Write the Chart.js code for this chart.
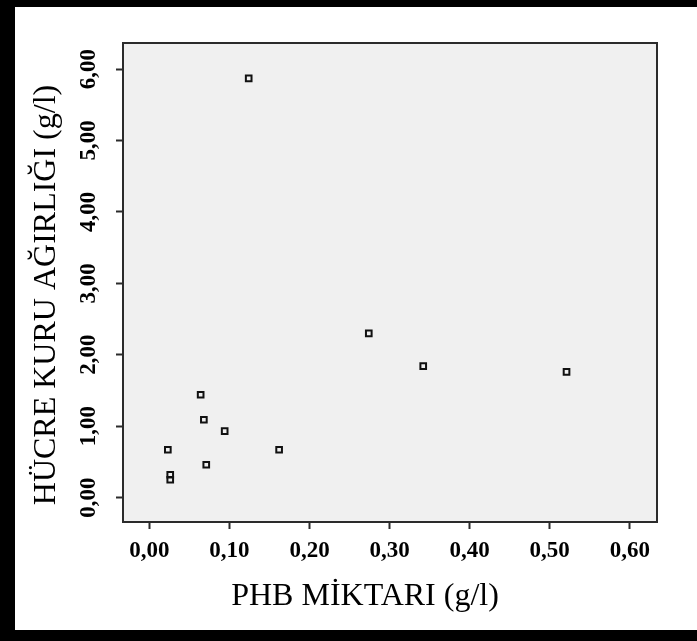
<!DOCTYPE html>
<html>
<head>
<meta charset="utf-8">
<script src="https://cdn.jsdelivr.net/npm/chart.js@4.4.0/dist/chart.umd.min.js"></script>
<style>
  html, body { margin: 0; padding: 0; background: #fff; }
  #frame {
    width: 682px; height: 623px;
    border-left: 15px solid #000;
    border-top: 7px solid #000;
    border-bottom: 11px solid #000;
    background: #fff;
  }
  canvas { display: block; }
</style>
</head>
<body>
<div id="frame"><canvas id="scatter" width="682" height="623"></canvas></div>
<script>
// ─── DATA ─────────────────────────────────────────────────────
const PHB_G_L  = [0.124, 0.064, 0.068, 0.094, 0.023, 0.071, 0.026, 0.026, 0.162, 0.274, 0.342, 0.521];
const DRY_G_L  = [5.87,  1.44,  1.09,  0.93,  0.67,  0.46,  0.32,  0.25,  0.67,  2.30,  1.84,  1.76];

const X_TICKS       = [0, 0.1, 0.2, 0.3, 0.4, 0.5, 0.6];
const X_TICK_LABELS = ['0,00', '0,10', '0,20', '0,30', '0,40', '0,50', '0,60'];
const Y_TICKS       = [0, 1, 2, 3, 4, 5, 6];
const Y_TICK_LABELS = ['0,00', '1,00', '2,00', '3,00', '4,00', '5,00', '6,00'];

const X_TITLE = 'PHB MİKTARI (g/l)';
const Y_TITLE = 'HÜCRE KURU AĞIRLIĞI (g/l)';

const SERIF = '"Liberation Serif", "Times New Roman", serif';

// ─── PLOT BOX + AXIS TITLES ───────────────────────────────────
const plotBox = {
  id: 'plotBox',
  beforeDraw(chart) {
    const { ctx, chartArea: a } = chart;
    ctx.save();
    ctx.fillStyle = '#f0f0f0';
    ctx.fillRect(a.left, a.top, a.right - a.left, a.bottom - a.top);
    ctx.restore();
  },
  afterDraw(chart) {
    const { ctx, chartArea: a } = chart;
    ctx.save();
    ctx.strokeStyle = '#2b2b2b';
    ctx.lineWidth = 2;
    ctx.strokeRect(a.left, a.top, a.right - a.left, a.bottom - a.top);

    ctx.fillStyle = '#000';
    ctx.font = '32px ' + SERIF;
    ctx.textAlign = 'center';
    ctx.textBaseline = 'alphabetic';
    ctx.fillText(X_TITLE, 350, 598);

    ctx.translate(40, 288);
    ctx.rotate(-Math.PI / 2);
    ctx.fillText(Y_TITLE, 0, 0);
    ctx.restore();
  }
};

const tickFont = { family: SERIF, size: 23, weight: 'bold' };

new Chart(document.getElementById('scatter').getContext('2d'), {
  type: 'scatter',
  data: {
    datasets: [{
      data: PHB_G_L.map((x, i) => ({ x, y: DRY_G_L[i] })),
      pointStyle: 'rect',
      pointRadius: 4,
      pointHoverRadius: 4,
      borderWidth: 2,
      borderColor: '#111',
      backgroundColor: 'transparent',
    }],
  },
  options: {
    responsive: false,
    animation: false,
    events: [],
    layout: { padding: { top: 36, right: 40, left: 0, bottom: 0 } },
    plugins: { legend: { display: false }, tooltip: { enabled: false } },
    scales: {
      x: {
        type: 'linear',
        min: -0.033,
        max: 0.634,
        afterBuildTicks: s => { s.ticks = X_TICKS.map(v => ({ value: v })); },
        afterFit: s => { s.height = 108; },
        border: { display: false },
        grid: { drawOnChartArea: false, tickLength: 7, tickWidth: 2, tickColor: '#2b2b2b' },
        ticks: {
          padding: 8,
          color: '#000',
          font: tickFont,
          maxRotation: 0,
          autoSkip: false,
          callback: v => X_TICK_LABELS[X_TICKS.findIndex(t => Math.abs(t - v) < 1e-9)],
        },
      },
      y: {
        type: 'linear',
        min: -0.342,
        max: 6.365,
        afterBuildTicks: s => { s.ticks = Y_TICKS.map(v => ({ value: v })); },
        afterFit: s => { s.width = 108; },
        border: { display: false },
        grid: { drawOnChartArea: false, tickLength: 7, tickWidth: 2, tickColor: '#2b2b2b' },
        ticks: {
          padding: 7,
          color: '#000',
          font: tickFont,
          minRotation: 90,
          maxRotation: 90,
          crossAlign: 'center',
          autoSkip: false,
          callback: v => Y_TICK_LABELS[Y_TICKS.findIndex(t => Math.abs(t - v) < 1e-9)],
        },
      },
    },
  },
  plugins: [plotBox],
});
</script>
</body>
</html>
